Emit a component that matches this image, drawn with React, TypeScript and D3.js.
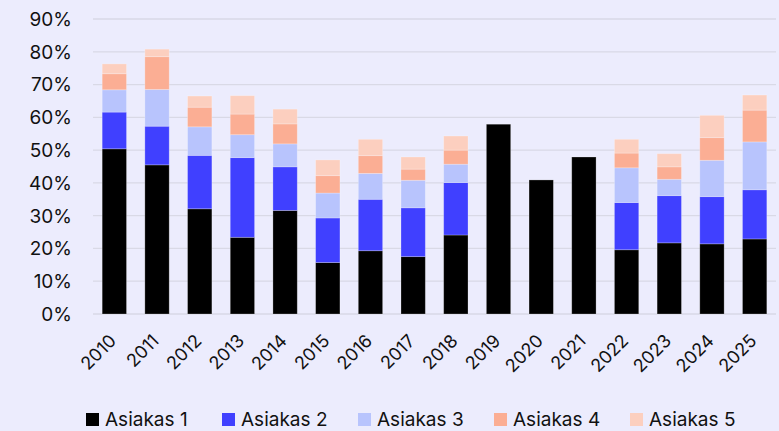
import React, { useEffect, useRef } from 'react';
import { select, scaleBand, scaleLinear, stack } from 'd3';

const years = ['2010', '2011', '2012', '2013', '2014', '2015', '2016', '2017', '2018', '2019', '2020', '2021', '2022', '2023', '2024', '2025'];
const seriesNames = ['Asiakas 1', 'Asiakas 2', 'Asiakas 3', 'Asiakas 4', 'Asiakas 5'];
const seriesColors = ['#000000', '#4040ff', '#b8c4fd', '#fbae94', '#fccfbf'];

// osuudet prosentteina
const asiakas1 = [50.4, 45.5, 32.1, 23.4, 31.6, 15.7, 19.3, 17.5, 24.1, 57.9, 40.9, 47.9, 19.6, 21.7, 21.4, 22.9];
const asiakas2 = [11.2, 11.8, 16.3, 24.3, 13.3, 13.6, 15.7, 14.9, 16.0, 0, 0, 0, 14.4, 14.4, 14.4, 15.0];
const asiakas3 = [6.8, 11.2, 8.7, 7.0, 7.0, 7.6, 7.9, 8.4, 5.6, 0, 0, 0, 10.6, 5.0, 11.1, 14.6];
const asiakas4 = [4.9, 10.0, 6.0, 6.3, 6.1, 5.3, 5.4, 3.4, 4.3, 0, 0, 0, 4.5, 3.8, 6.9, 9.7];
const asiakas5 = [3.0, 2.3, 3.4, 5.6, 4.5, 4.8, 5.0, 3.7, 4.3, 0, 0, 0, 4.2, 4.0, 6.8, 4.6];

const yTicks = [0, 10, 20, 30, 40, 50, 60, 70, 80, 90];

const W = 779;
const H = 431;
const FONT = 'Inter, "Liberation Sans", sans-serif';

const App = () => {
  const svgRef = useRef<SVGSVGElement>(null);

  useEffect(() => {
    const svg = select(svgRef.current);
    svg.selectAll('*').remove();

    svg.append('rect').attr('width', W).attr('height', H).attr('fill', '#ececfd');

    const x = scaleBand<string>()
      .domain(years)
      .range([93, 776])
      .paddingInner(0.43)
      .paddingOuter(0.215);

    const y = scaleLinear().domain([0, 90]).range([314, 19]);

    const all = [asiakas1, asiakas2, asiakas3, asiakas4, asiakas5];
    const rows = years.map((yr, i) => {
      const r: any = { year: yr };
      seriesNames.forEach((s, k) => { r[s] = all[k][i]; });
      return r;
    });
    const stacked = stack<any>().keys(seriesNames)(rows);

    // gridlines
    svg.append('g')
      .selectAll('line')
      .data(yTicks)
      .join('line')
      .attr('x1', 93)
      .attr('x2', 776)
      .attr('y1', d => y(d))
      .attr('y2', d => y(d))
      .attr('stroke', '#d9d9e6')
      .attr('stroke-width', 1.3);

    svg.append('g')
      .selectAll('text')
      .data(yTicks)
      .join('text')
      .attr('x', 72)
      .attr('y', d => y(d))
      .attr('dy', '0.36em')
      .attr('text-anchor', 'end')
      .attr('font-family', FONT)
      .attr('font-size', 19)
      .attr('fill', '#111')
      .text(d => d + '%');

    // bars
    svg.append('g')
      .selectAll('g')
      .data(stacked)
      .join('g')
      .attr('fill', (d, i) => seriesColors[i])
      .selectAll('rect')
      .data(d => d.filter(p => p[1] - p[0] > 0))
      .join('rect')
      .attr('x', d => x(d.data.year)!)
      .attr('width', x.bandwidth())
      .attr('y', d => y(d[1]))
      .attr('height', d => y(d[0]) - y(d[1]))
      .attr('stroke', 'rgba(255,255,255,0.3)')
      .attr('stroke-width', 0.8);

    // year labels
    svg.append('g')
      .selectAll('text')
      .data(years)
      .join('text')
      .attr('transform', d => `translate(${x(d)! + x.bandwidth() / 2 + 3},342) rotate(-45)`)
      .attr('text-anchor', 'end')
      .attr('font-family', FONT)
      .attr('font-size', 18)
      .attr('fill', '#111')
      .text(d => d);

    // legend
    const lg = svg.append('g')
      .selectAll('g')
      .data(seriesNames)
      .join('g')
      .attr('transform', (d, i) => `translate(${86 + i * 136},0)`);
    lg.append('rect')
      .attr('x', 0)
      .attr('y', 413)
      .attr('width', 13)
      .attr('height', 13)
      .attr('fill', (d, i) => seriesColors[i]);
    lg.append('text')
      .attr('x', 19)
      .attr('y', 426)
      .attr('font-family', FONT)
      .attr('font-size', 19)
      .attr('fill', '#111')
      .text(d => d);
  }, []);

  return (
    <div style={{ position: 'absolute', left: 0, top: 0 }}>
      <svg ref={svgRef} width={W} height={H} style={{ display: 'block' }}></svg>
    </div>
  );
};

export default App;
